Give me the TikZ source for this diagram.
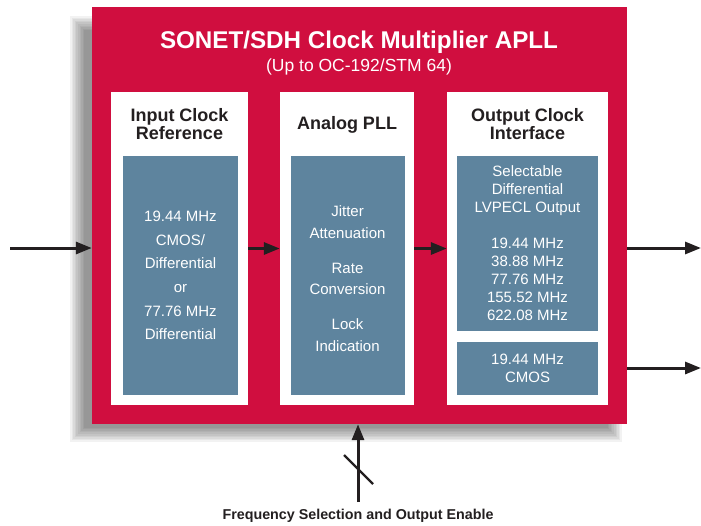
\documentclass[tikz,border=0pt]{standalone}
\usepackage{fontspec}
\setmainfont{Liberation Sans}
\usetikzlibrary{arrows.meta}
\definecolor{cred}{RGB}{208,14,63}
\definecolor{cblue}{RGB}{94,132,158}
\definecolor{cdark}{RGB}{35,31,32}

\begin{document}
\begin{tikzpicture}[x=1pt, y=-1pt,
    panel/.style={fill=white, inner sep=0pt},
    bluebox/.style={fill=cblue, inner sep=0pt, text=white, align=center, font=\fontsize{15}{18}\selectfont},
    heading/.style={text=cdark, align=center, font=\fontsize{18}{18}\selectfont\bfseries},
    arr/.style={line width=3pt, cdark, -{Triangle[length=16pt, width=12pt]}}]
  \useasboundingbox (0, 0) rectangle (701, 525);

  \foreach \i in {0,...,9}
    \fill [black, opacity=0.05] (70+\i*1.6, 16+\i*1.6) rectangle (622-\i*1.6, 442-\i*1.6);

  \node [fill=cred, inner sep=0pt, minimum width=535pt, minimum height=417pt] (chip) at (359.5, 215.5) {};
  \node [text=white, font=\fontsize{24.2}{25}\selectfont\bfseries] (title) at (359, 42) {SONET/SDH Clock Multiplier APLL};
  \node [text=white, font=\fontsize{17.5}{18}\selectfont] (subtitle) at (359, 67) {(Up to OC-192/STM 64)};

  \node [panel, minimum width=137pt, minimum height=313pt] (pIn) at (179.5, 248.5) {};
  \node [panel, minimum width=134pt, minimum height=313pt] (pPll) at (347, 248.5) {};
  \node [panel, minimum width=161pt, minimum height=313pt] (pOut) at (527.5, 248.5) {};

  \node [heading] (hIn) at (179.5, 124) {Input Clock\\Reference};
  \node [heading] (hPll) at (347, 125) {Analog PLL};
  \node [heading] (hOut) at (527.5, 124) {Output Clock\\Interface};

  \node [bluebox, minimum width=115pt, minimum height=239pt, font=\fontsize{15}{23.6}\selectfont] (bIn) at (180.5, 275.5)
    {19.44 MHz\\CMOS/\\Differential\\or\\77.76 MHz\\Differential};
  \node [bluebox, minimum width=114pt, minimum height=239pt] (bPll) at (347.5, 275.5) {};
  \node [text=white, align=center, font=\fontsize{15}{21.5}\selectfont] (tPll) at (347.5, 278.5)
    {Jitter\\Attenuation\\[13.5pt]Rate\\Conversion\\[13.5pt]Lock\\Indication};
  \node [bluebox, minimum width=141pt, minimum height=175pt] (bLvpecl) at (527.5, 243.5)
    {Selectable\\Differential\\LVPECL Output\\[18pt]19.44 MHz\\38.88 MHz\\77.76 MHz\\155.52 MHz\\622.08 MHz};
  \node [bluebox, minimum width=141pt, minimum height=53pt] (bCmos) at (527.5, 368.5)
    {19.44 MHz\\CMOS};

  \coordinate (clkIn) at (10, 248);
  \coordinate (out1) at (701, 248);
  \coordinate (out2) at (701, 368);
  \coordinate (sel) at (358, 502);

  \draw [arr] (clkIn) -- (clkIn -| chip.west);
  \draw [arr] (pIn.east) -- (pPll.west);
  \draw [arr] (pPll.east) -- (pOut.west);
  \draw [arr] (out1 -| chip.east) -- (out1);
  \draw [arr] (out2 -| chip.east) -- (out2);
  \draw [arr] (sel) -- (sel |- chip.south);
  \draw [line width=2.4pt, cdark] (344, 455) -- (373, 484);

  \node [text=cdark, font=\fontsize{14.3}{15}\selectfont\bfseries] (selLabel) at (358, 516) {Frequency Selection and Output Enable};
\end{tikzpicture}
\end{document}
